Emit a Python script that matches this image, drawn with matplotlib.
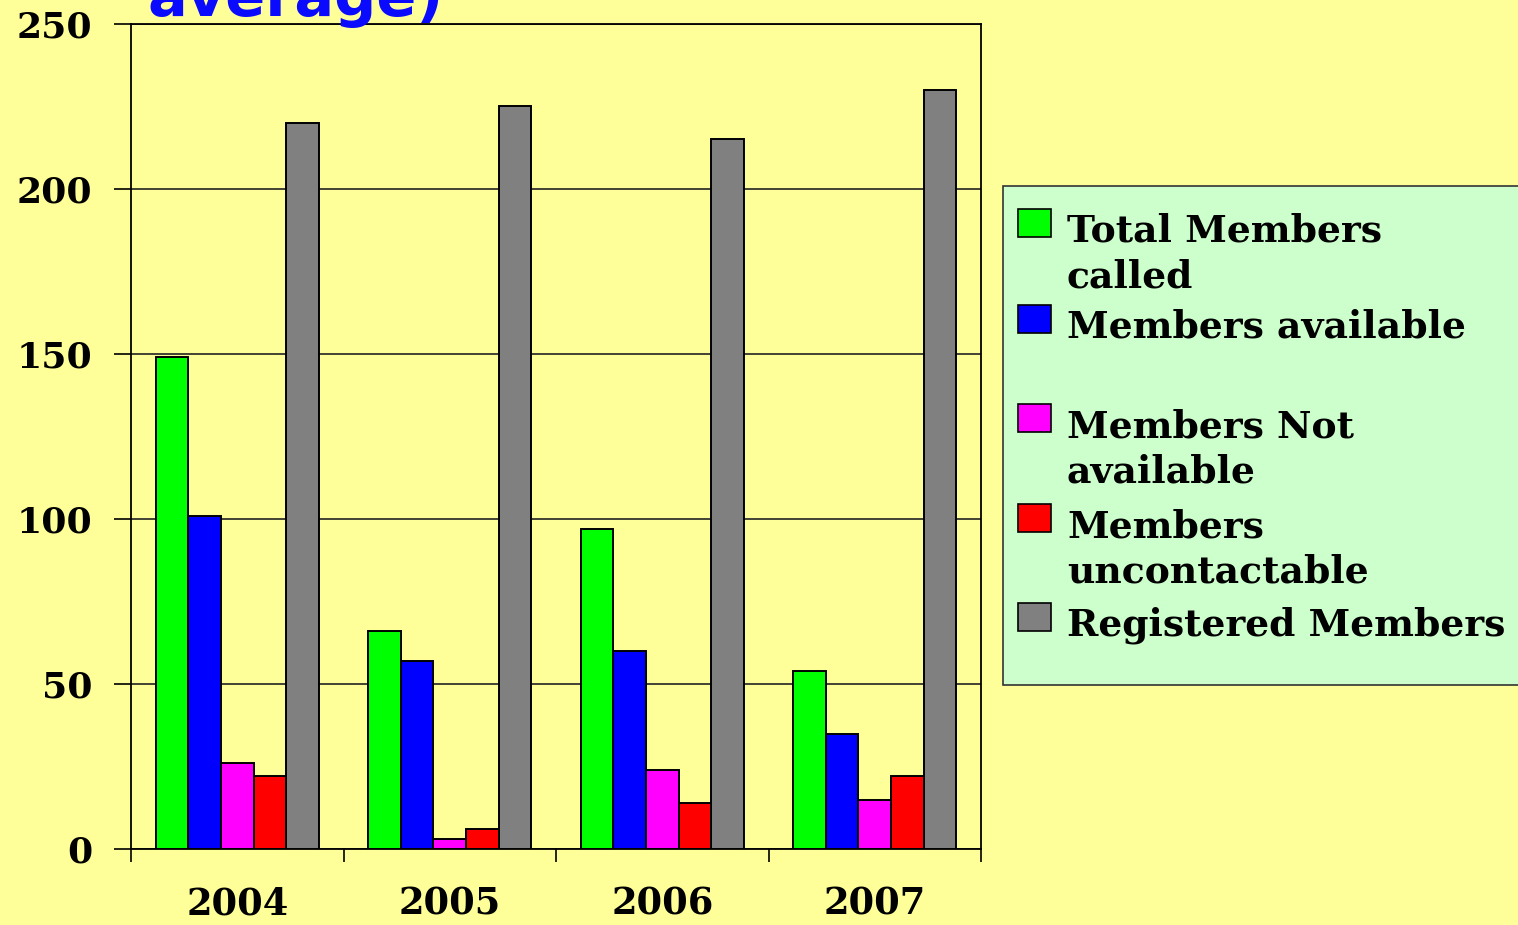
import matplotlib
matplotlib.use("Agg")
import matplotlib.pyplot as plt
from matplotlib.patches import Rectangle
import numpy as np

years = ["2004", "2005", "2006", "2007"]
series_names = ["Total Members\ncalled", "Members available", "Members Not\navailable",
                "Members\nuncontactable", "Registered Members"]
total_called = [149, 66, 97, 54]
available = [101, 57, 60, 35]
not_available = [26, 3, 24, 15]
uncontactable = [22, 6, 14, 22]
registered = [220, 225, 215, 230]
series_values = [total_called, available, not_available, uncontactable, registered]
series_colors = ["#00FF00", "#0000FF", "#FF00FF", "#FF0000", "#808080"]
y_ticks = [0, 50, 100, 150, 200, 250]

W, H = 1518, 925
fig = plt.figure(figsize=(W / 100, H / 100), dpi=100)
fig.patch.set_facecolor("#FFFF99")

ax = fig.add_axes([131 / W, (H - 849) / H, 850 / W, 825 / H])
ax.set_facecolor("#FFFF99")

x = np.arange(len(years))
bw = 0.1535
for i, (vals, col) in enumerate(zip(series_values, series_colors)):
    ax.bar(x + (i - 2) * bw, vals, width=bw, color=col, edgecolor="black",
           linewidth=1.4, zorder=3)

ax.set_xlim(-0.5, 3.5)
ax.set_ylim(0, 250)
ax.set_yticks(y_ticks)
ax.set_yticklabels([str(t) for t in y_ticks], fontfamily="DejaVu Serif",
                   fontweight="bold", fontsize=26)
ax.yaxis.grid(True, color="#222222", linewidth=1.2, zorder=1)
ax.tick_params(axis="y", direction="out", length=12, width=1.2, pad=16, colors="black")

ax.set_xticks(x)
ax.set_xticklabels(years, fontfamily="DejaVu Serif", fontweight="bold", fontsize=26.5)
ax.set_xticks(np.arange(-0.5, 4.0, 1.0), minor=True)
ax.tick_params(axis="x", which="major", length=0, pad=27)
ax.tick_params(axis="x", which="minor", direction="out", length=9, width=1.2)
for s in ax.spines.values():
    s.set_linewidth(1.3)
    s.set_color("black")

# title fragment (cut off at top of the slide, as in the reference)
fig.text(148 / W, 1 - 16 / H, "average)", color="#0A0AFF", fontsize=42.5,
         fontweight="bold", fontfamily="DejaVu Sans", va="baseline", ha="left")

# legend box
fig.patches.append(Rectangle((1003 / W, (H - 685) / H), 530 / W, 499 / H,
                             transform=fig.transFigure, facecolor="#CCFFCC",
                             edgecolor="#333333", linewidth=1.2, zorder=1))
centers = [223, 319, 418, 518, 617]
for name, col, cy in zip(series_names, series_colors, centers):
    fig.patches.append(Rectangle((1018 / W, (H - cy - 14) / H), 33 / W, 28 / H,
                                 transform=fig.transFigure, facecolor=col,
                                 edgecolor="black", linewidth=1.2, zorder=2))
    fig.text(1067 / W, (H - cy + 10) / H, name, fontfamily="DejaVu Serif",
             fontweight="bold", fontsize=27.2, va="top", ha="left",
             linespacing=1.3, zorder=3,
             transform=fig.transFigure)

fig.savefig("out.png", dpi=100, facecolor=fig.get_facecolor())
